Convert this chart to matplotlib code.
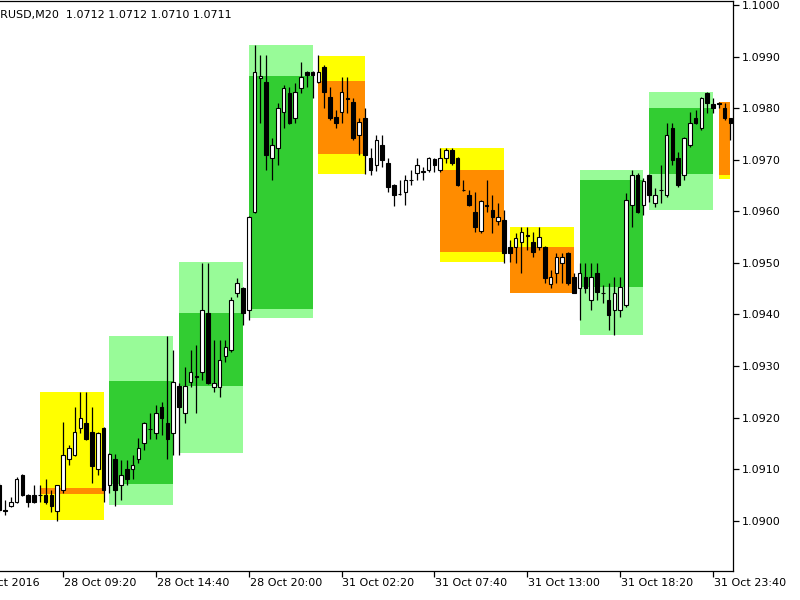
import matplotlib
matplotlib.use("Agg")
import matplotlib.pyplot as plt
from matplotlib.patches import Rectangle

# M20 candles, bar index -11 .. 115 (bar 0 = 28 Oct 09:20)
first_bar = -11
opens = [1.09070, 1.09021, 1.09029, 1.09037, 1.09089, 1.09050, 1.09050, 1.09050, 1.09050, 1.09050, 1.09019,
         1.09060, 1.09120, 1.09128, 1.09180, 1.09190, 1.09172, 1.09101, 1.09180, 1.09070, 1.09120,
         1.09070, 1.09101, 1.09101, 1.09120, 1.09151, 1.09178, 1.09170, 1.09221, 1.09190, 1.09170,
         1.09262, 1.09209, 1.09269, 1.09281, 1.09289, 1.09403, 1.09260, 1.09260, 1.09320, 1.09331,
         1.09442, 1.09452, 1.09409, 1.09599, 1.09859, 1.09851, 1.09704, 1.09723, 1.09793, 1.09830,
         1.09781, 1.09839, 1.09870, 1.09870, 1.09851, 1.09880, 1.09822, 1.09783, 1.09793, 1.09820,
         1.09812, 1.09748, 1.09781, 1.09704, 1.09690, 1.09729, 1.09694, 1.09651, 1.09634, 1.09638,
         1.09661, 1.09675, 1.09677, 1.09680, 1.09702, 1.09680, 1.09704, 1.09719, 1.09704, 1.09642,
         1.09632, 1.09599, 1.09562, 1.09612, 1.09603, 1.09581, 1.09583, 1.09531, 1.09531, 1.09541,
         1.09554, 1.09541, 1.09531, 1.09531, 1.09459, 1.09481, 1.09500, 1.09519, 1.09473, 1.09452,
         1.09473, 1.09428, 1.09481, 1.09442, 1.09428, 1.09409, 1.09409, 1.09419, 1.09612, 1.09671,
         1.09612, 1.09671, 1.09616, 1.09642, 1.09632, 1.09762, 1.09704, 1.09671, 1.09729, 1.09781,
         1.09762, 1.09830, 1.09808, 1.09810, 1.09801, 1.09781]
highs = [1.09074, 1.09041, 1.09046, 1.09085, 1.09091, 1.09052, 1.09070, 1.09070, 1.09081, 1.09060, 1.09070,
         1.09192, 1.09147, 1.09221, 1.09250, 1.09250, 1.09221, 1.09172, 1.09182, 1.09132, 1.09130,
         1.09118, 1.09118, 1.09128, 1.09161, 1.09192, 1.09209, 1.09225, 1.09230, 1.09358, 1.09331,
         1.09267, 1.09298, 1.09331, 1.09341, 1.09500, 1.09500, 1.09351, 1.09351, 1.09351, 1.09434,
         1.09471, 1.09453, 1.09591, 1.09923, 1.09903, 1.09903, 1.09742, 1.09810, 1.09845, 1.09841,
         1.09849, 1.09890, 1.09872, 1.09872, 1.09903, 1.09884, 1.09841, 1.09797, 1.09861, 1.09861,
         1.09820, 1.09781, 1.09801, 1.09723, 1.09748, 1.09748, 1.09704, 1.09653, 1.09661, 1.09671,
         1.09680, 1.09704, 1.09686, 1.09706, 1.09704, 1.09723, 1.09723, 1.09723, 1.09706, 1.09661,
         1.09642, 1.09638, 1.09622, 1.09661, 1.09632, 1.09616, 1.09603, 1.09545, 1.09558, 1.09570,
         1.09570, 1.09560, 1.09570, 1.09533, 1.09486, 1.09519, 1.09519, 1.09521, 1.09481, 1.09500,
         1.09500, 1.09500, 1.09500, 1.09457, 1.09461, 1.09473, 1.09473, 1.09636, 1.09680, 1.09675,
         1.09665, 1.09673, 1.09645, 1.09690, 1.09772, 1.09772, 1.09715, 1.09744, 1.09793, 1.09797,
         1.09822, 1.09832, 1.09820, 1.09812, 1.09810, 1.09781]
lows = [1.09017, 1.09011, 1.09027, 1.09035, 1.09048, 1.09027, 1.09035, 1.09037, 1.09033, 1.09017, 1.09000,
        1.09054, 1.09108, 1.09126, 1.09170, 1.09157, 1.09074, 1.09089, 1.09037, 1.09054, 1.09029,
        1.09041, 1.09070, 1.09081, 1.09112, 1.09137, 1.09159, 1.09159, 1.09166, 1.09120, 1.09128,
        1.09128, 1.09190, 1.09260, 1.09209, 1.09273, 1.09265, 1.09250, 1.09240, 1.09308, 1.09327,
        1.09434, 1.09380, 1.09390, 1.09597, 1.09772, 1.09680, 1.09661, 1.09690, 1.09762, 1.09770,
        1.09772, 1.09830, 1.09841, 1.09820, 1.09849, 1.09801, 1.09777, 1.09762, 1.09772, 1.09791,
        1.09739, 1.09710, 1.09673, 1.09671, 1.09678, 1.09686, 1.09638, 1.09611, 1.09632, 1.09612,
        1.09651, 1.09661, 1.09661, 1.09677, 1.09677, 1.09677, 1.09694, 1.09690, 1.09649, 1.09640,
        1.09611, 1.09560, 1.09558, 1.09599, 1.09558, 1.09574, 1.09500, 1.09502, 1.09500, 1.09481,
        1.09525, 1.09512, 1.09525, 1.09461, 1.09452, 1.09461, 1.09461, 1.09457, 1.09442, 1.09390,
        1.09442, 1.09409, 1.09428, 1.09422, 1.09370, 1.09360, 1.09395, 1.09415, 1.09570, 1.09597,
        1.09593, 1.09618, 1.09609, 1.09616, 1.09628, 1.09690, 1.09647, 1.09661, 1.09725, 1.09770,
        1.09758, 1.09791, 1.09791, 1.09801, 1.09777, 1.09739]
closes = [1.09021, 1.09019, 1.09037, 1.09081, 1.09050, 1.09037, 1.09037, 1.09049, 1.09037, 1.09029, 1.09070,
          1.09128, 1.09141, 1.09172, 1.09200, 1.09159, 1.09106, 1.09170, 1.09060, 1.09130, 1.09060,
          1.09089, 1.09081, 1.09108, 1.09141, 1.09190, 1.09177, 1.09209, 1.09200, 1.09159, 1.09269,
          1.09221, 1.09262, 1.09289, 1.09279, 1.09409, 1.09267, 1.09267, 1.09312, 1.09337, 1.09428,
          1.09461, 1.09403, 1.09589, 1.09870, 1.09863, 1.09710, 1.09729, 1.09801, 1.09839, 1.09772,
          1.09832, 1.09861, 1.09865, 1.09865, 1.09870, 1.09832, 1.09781, 1.09772, 1.09832, 1.09818,
          1.09742, 1.09773, 1.09710, 1.09680, 1.09739, 1.09700, 1.09647, 1.09632, 1.09633, 1.09661,
          1.09660, 1.09690, 1.09678, 1.09704, 1.09690, 1.09704, 1.09719, 1.09694, 1.09651, 1.09641,
          1.09612, 1.09570, 1.09620, 1.09611, 1.09589, 1.09589, 1.09519, 1.09519, 1.09549, 1.09560,
          1.09553, 1.09521, 1.09550, 1.09471, 1.09473, 1.09512, 1.09512, 1.09461, 1.09442, 1.09481,
          1.09452, 1.09473, 1.09444, 1.09441, 1.09399, 1.09442, 1.09453, 1.09622, 1.09671, 1.09599,
          1.09659, 1.09632, 1.09632, 1.09641, 1.09748, 1.09700, 1.09651, 1.09742, 1.09772, 1.09772,
          1.09820, 1.09810, 1.09801, 1.09809, 1.09781, 1.09772]

# 4-hour boxes (first bar, last bar, OHLC)
box_start = [-4, 8, 20, 32, 44, 65, 77, 89, 101, 113]
box_end = [7, 19, 31, 43, 52, 76, 88, 100, 112, 115]
box_open = [1.09064, 1.09072, 1.09262, 1.09410, 1.09853, 1.09680, 1.09530, 1.09453, 1.09673, 1.09812]
box_high = [1.09250, 1.09359, 1.09501, 1.09923, 1.09902, 1.09722, 1.09570, 1.09680, 1.09832, 1.09812]
box_low = [1.09002, 1.09031, 1.09131, 1.09393, 1.09673, 1.09501, 1.09442, 1.09361, 1.09603, 1.09662]
box_close = [1.09052, 1.09270, 1.09403, 1.09863, 1.09711, 1.09521, 1.09442, 1.09660, 1.09801, 1.09671]

tick_pos = [-16, 0, 16, 32, 48, 64, 80, 96, 112]
tick_labels = ['28 Oct 2016', '28 Oct 09:20', '28 Oct 14:40', '28 Oct 20:00', '31 Oct 02:20',
               '31 Oct 07:40', '31 Oct 13:00', '31 Oct 18:20', '31 Oct 23:40']
price_ticks = [1.0900, 1.0910, 1.0920, 1.0930, 1.0940, 1.0950, 1.0960, 1.0970, 1.0980, 1.0990, 1.1000]

fig = plt.figure(figsize=(8, 6), dpi=100)
ax = fig.add_axes([0, 1 - 571 / 600, 733 / 800, 570 / 600])

# boxes behind the candles
for s, e, o, h, l, c in zip(box_start, box_end, box_open, box_high, box_low, box_close):
    if c >= o:
        outer, inner = '#98FB98', '#32CD32'
    else:
        outer, inner = '#FFFF00', '#FF8C00'
    ax.add_patch(Rectangle((s, l), e - s, h - l, facecolor=outer, edgecolor='none', zorder=1))
    ax.add_patch(Rectangle((s, min(o, c)), e - s, abs(c - o), facecolor=inner, edgecolor='none', zorder=1))

idx = list(range(first_bar, first_bar + len(opens)))
ax.vlines(idx, lows, highs, color='black', lw=0.9, zorder=2)
for i, o, c in zip(idx, opens, closes):
    fill = 'white' if c >= o else 'black'
    ax.bar(i, max(abs(c - o), 0.000004), bottom=min(o, c), width=0.62,
           facecolor=fill, edgecolor='black', linewidth=0.8, zorder=3)

ax.set_xlim(-10.85, 115.44)
ax.set_ylim(1.089025, 1.100078)

ax.spines['left'].set_visible(False)
for side in ['top', 'right', 'bottom']:
    ax.spines[side].set_linewidth(0.9)

ax.yaxis.tick_right()
ax.set_yticks(price_ticks)
ax.set_yticklabels(['%.4f' % p for p in price_ticks])
ax.tick_params(axis='y', length=4, width=0.9, labelsize=8, pad=2)

ax.set_xticks(tick_pos[1:])
ax.set_xticklabels([])
ax.tick_params(axis='x', length=4, width=0.9)
for p, lab in zip(tick_pos, tick_labels):
    ax.text(p + 0.15, -0.021, lab, transform=ax.get_xaxis_transform(),
            ha='left', va='center', fontsize=8, clip_on=False)

fig.text(-15 / 800, 1 - 15 / 600, 'EURUSD,M20  1.0712 1.0712 1.0710 1.0711',
         fontsize=8, va='center', ha='left')

fig.savefig('out.png', dpi=100)
